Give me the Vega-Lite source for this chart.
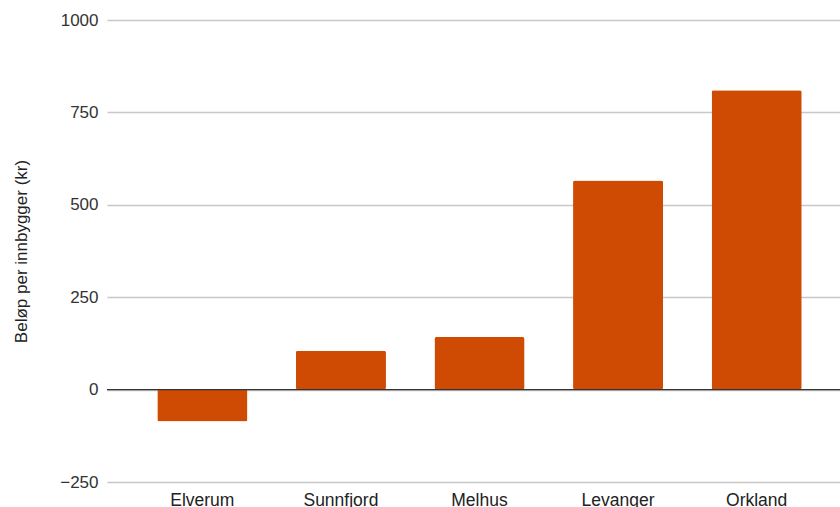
{
  "$schema": "https://vega.github.io/schema/vega-lite/v6.json",
  "width": 745,
  "height": 462,
  "autosize": {"type": "none"},
  "padding": {"left": 107, "top": 20, "right": 0, "bottom": 25},
  "background": "white",
  "config": {
    "view": {"stroke": null},
    "font": "Liberation Sans"
  },
  "data": {
    "values": [
      {"kommune": "Elverum", "belop": -86},
      {"kommune": "Sunnfjord", "belop": 105},
      {"kommune": "Melhus", "belop": 142},
      {"kommune": "Levanger", "belop": 566},
      {"kommune": "Orkland", "belop": 810}
    ]
  },
  "layer": [
    {
      "mark": {"type": "bar", "color": "#CF4A02", "cornerRadius": 2},
      "encoding": {
        "x": {
          "field": "kommune",
          "type": "nominal",
          "sort": null,
          "scale": {"paddingInner": 0.35, "paddingOuter": 0.363},
          "axis": {
            "title": null,
            "labelAngle": 0,
            "labelFontSize": 17.5,
            "labelColor": "#222222",
            "labelPadding": 9,
            "ticks": false,
            "domain": false
          }
        },
        "y": {
          "field": "belop",
          "type": "quantitative",
          "scale": {"domain": [-250, 1000], "nice": false},
          "axis": {
            "title": "Beløp per innbygger (kr)",
            "titleFontSize": 17,
            "titleFontWeight": "normal",
            "titleColor": "#222222",
            "titlePadding": 29,
            "values": [-250, 0, 250, 500, 750, 1000],
            "format": "d",
            "labelFontSize": 17,
            "labelColor": "#333333",
            "labelPadding": 9,
            "labelFlush": false,
            "ticks": false,
            "domain": false,
            "grid": true,
            "gridColor": "#c8c8c8",
            "gridWidth": 1.5
          }
        }
      }
    },
    {
      "data": {"values": [{"zero": 0}]},
      "mark": {"type": "rule", "color": "#333333", "strokeWidth": 1.3},
      "encoding": {
        "y": {"field": "zero", "type": "quantitative"}
      }
    }
  ]
}
